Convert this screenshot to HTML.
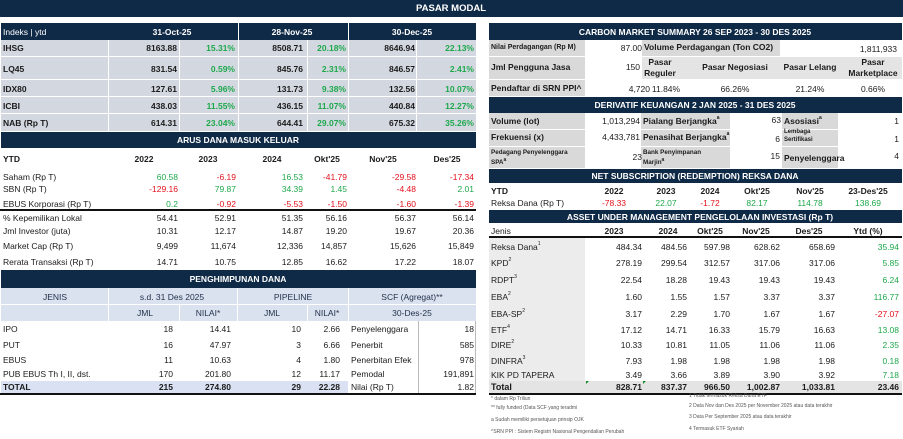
<!DOCTYPE html>
<html><head><meta charset="utf-8">
<style>
*{margin:0;padding:0;box-sizing:border-box}
body{width:903px;height:439px;background:#fff;position:relative;overflow:hidden;font-family:"Liberation Sans",Arial,sans-serif;color:#1b1b1b}
.a{position:absolute;white-space:nowrap;line-height:10px;font-size:8.5px}
.c{width:120px;text-align:center}
.b{font-weight:bold}
.g{color:#1ea84c}
.rd{color:#e3101c}
.w{color:#fff}
.bx{position:absolute}
.nv{background:#0f2a47}
.s{font-size:7px}
.f{font-size:5px;color:#555;line-height:6px}
sup{font-size:5px;vertical-align:top;position:relative;top:-3px}
</style></head><body>

<!-- Top header -->
<div class="bx nv" style="left:0;top:0;width:903px;height:17px"></div>
<div class="a b w" style="left:391px;top:4px;width:120px;text-align:center;font-size:9.5px">PASAR MODAL</div>

<!-- ============ LEFT: Indices ============ -->
<div class="bx nv" style="left:1px;top:23px;width:475px;height:17px"></div>
<div class="bx" style="left:238px;top:23px;width:1px;height:17px;background:#fff"></div>
<div class="bx" style="left:348px;top:23px;width:1px;height:17px;background:#fff"></div>
<div class="a w" style="left:3px;top:27px">Indeks | ytd</div>
<div class="a b w c" style="left:112px;top:27px">31-Oct-25</div>
<div class="a b w c" style="left:232px;top:27px">28-Nov-25</div>
<div class="a b w c" style="left:352px;top:27px">30-Dec-25</div>

<div class="bx" style="left:1px;top:40px;width:475px;height:91px;background:#d3d8e0"></div>
<div class="bx" style="left:1px;top:56px;width:475px;height:1px;background:#fff"></div>
<div class="bx" style="left:1px;top:79px;width:475px;height:1px;background:#fff"></div>
<div class="bx" style="left:1px;top:96px;width:475px;height:1px;background:#fff"></div>
<div class="bx" style="left:1px;top:113px;width:475px;height:1px;background:#fff"></div>
<div class="bx" style="left:108px;top:40px;width:1px;height:91px;background:#fff"></div>
<div class="bx" style="left:179px;top:40px;width:1px;height:91px;background:#fff"></div>
<div class="bx" style="left:238px;top:40px;width:1px;height:91px;background:#fff"></div>
<div class="bx" style="left:307px;top:40px;width:1px;height:91px;background:#fff"></div>
<div class="bx" style="left:348px;top:40px;width:1px;height:91px;background:#fff"></div>
<div class="bx" style="left:416px;top:40px;width:1px;height:91px;background:#fff"></div>

<div class="a b" style="left:3px;top:43px">IHSG</div>
<div class="a b" style="right:726px;top:43px">8163.88</div>
<div class="a b g" style="right:668px;top:43px">15.31%</div>
<div class="a b" style="right:600px;top:43px">8508.71</div>
<div class="a b g" style="right:557px;top:43px">20.18%</div>
<div class="a b" style="right:488px;top:43px">8646.94</div>
<div class="a b g" style="right:429px;top:43px">22.13%</div>

<div class="a b" style="left:3px;top:64px">LQ45</div>
<div class="a b" style="right:726px;top:64px">831.54</div>
<div class="a b g" style="right:668px;top:64px">0.59%</div>
<div class="a b" style="right:600px;top:64px">845.76</div>
<div class="a b g" style="right:557px;top:64px">2.31%</div>
<div class="a b" style="right:488px;top:64px">846.57</div>
<div class="a b g" style="right:429px;top:64px">2.41%</div>

<div class="a b" style="left:3px;top:84px">IDX80</div>
<div class="a b" style="right:726px;top:84px">127.61</div>
<div class="a b g" style="right:668px;top:84px">5.96%</div>
<div class="a b" style="right:600px;top:84px">131.73</div>
<div class="a b g" style="right:557px;top:84px">9.38%</div>
<div class="a b" style="right:488px;top:84px">132.56</div>
<div class="a b g" style="right:429px;top:84px">10.07%</div>

<div class="a b" style="left:3px;top:101px">ICBI</div>
<div class="a b" style="right:726px;top:101px">438.03</div>
<div class="a b g" style="right:668px;top:101px">11.55%</div>
<div class="a b" style="right:600px;top:101px">436.15</div>
<div class="a b g" style="right:557px;top:101px">11.07%</div>
<div class="a b" style="right:488px;top:101px">440.84</div>
<div class="a b g" style="right:429px;top:101px">12.27%</div>

<div class="a b" style="left:3px;top:118px">NAB (Rp T)</div>
<div class="a b" style="right:726px;top:118px">614.31</div>
<div class="a b g" style="right:668px;top:118px">23.04%</div>
<div class="a b" style="right:600px;top:118px">644.41</div>
<div class="a b g" style="right:557px;top:118px">29.07%</div>
<div class="a b" style="right:488px;top:118px">675.32</div>
<div class="a b g" style="right:429px;top:118px">35.26%</div>

<!-- ARUS DANA -->
<div class="bx nv" style="left:1px;top:132px;width:475px;height:16px"></div>
<div class="a b w" style="left:138px;top:135px;width:200px;text-align:center">ARUS DANA MASUK KELUAR</div>

<div class="a b" style="left:3px;top:154px">YTD</div>
<div class="a b c" style="left:84px;top:154px">2022</div>
<div class="a b c" style="left:148px;top:154px">2023</div>
<div class="a b c" style="left:212px;top:154px">2024</div>
<div class="a b c" style="left:267px;top:154px">Okt'25</div>
<div class="a b c" style="left:323px;top:154px">Nov'25</div>
<div class="a b c" style="left:387px;top:154px">Des'25</div>

<div class="a" style="left:3px;top:172px">Saham (Rp T)</div>
<div class="a g" style="right:725px;top:172px">60.58</div>
<div class="a rd" style="right:667px;top:172px">-6.19</div>
<div class="a g" style="right:600px;top:172px">16.53</div>
<div class="a rd" style="right:556px;top:172px">-41.79</div>
<div class="a rd" style="right:487px;top:172px">-29.58</div>
<div class="a rd" style="right:429px;top:172px">-17.34</div>

<div class="a" style="left:3px;top:184px">SBN (Rp T)</div>
<div class="a rd" style="right:725px;top:184px">-129.16</div>
<div class="a g" style="right:667px;top:184px">79.87</div>
<div class="a g" style="right:600px;top:184px">34.39</div>
<div class="a g" style="right:556px;top:184px">1.45</div>
<div class="a rd" style="right:487px;top:184px">-4.48</div>
<div class="a g" style="right:429px;top:184px">2.01</div>

<div class="a" style="left:3px;top:199px">EBUS Korporasi (Rp T)</div>
<div class="a g" style="right:725px;top:199px">0.2</div>
<div class="a rd" style="right:667px;top:199px">-0.92</div>
<div class="a rd" style="right:600px;top:199px">-5.53</div>
<div class="a rd" style="right:556px;top:199px">-1.50</div>
<div class="a rd" style="right:487px;top:199px">-1.60</div>
<div class="a rd" style="right:429px;top:199px">-1.39</div>

<div class="bx" style="left:0;top:209px;width:476px;height:1.5px;background:#111"></div>

<div class="a" style="left:3px;top:213px">% Kepemilikan Lokal</div>
<div class="a" style="right:725px;top:213px">54.41</div>
<div class="a" style="right:667px;top:213px">52.91</div>
<div class="a" style="right:600px;top:213px">51.35</div>
<div class="a" style="right:556px;top:213px">56.16</div>
<div class="a" style="right:487px;top:213px">56.37</div>
<div class="a" style="right:429px;top:213px">56.14</div>

<div class="a" style="left:3px;top:226px">Jml Investor (juta)</div>
<div class="a" style="right:725px;top:226px">10.31</div>
<div class="a" style="right:667px;top:226px">12.17</div>
<div class="a" style="right:600px;top:226px">14.87</div>
<div class="a" style="right:556px;top:226px">19.20</div>
<div class="a" style="right:487px;top:226px">19.67</div>
<div class="a" style="right:429px;top:226px">20.36</div>

<div class="a" style="left:3px;top:241px">Market Cap (Rp T)</div>
<div class="a" style="right:725px;top:241px">9,499</div>
<div class="a" style="right:667px;top:241px">11,674</div>
<div class="a" style="right:600px;top:241px">12,336</div>
<div class="a" style="right:556px;top:241px">14,857</div>
<div class="a" style="right:487px;top:241px">15,626</div>
<div class="a" style="right:429px;top:241px">15,849</div>

<div class="a" style="left:3px;top:257px">Rerata Transaksi (Rp T)</div>
<div class="a" style="right:725px;top:257px">14.71</div>
<div class="a" style="right:667px;top:257px">10.75</div>
<div class="a" style="right:600px;top:257px">12.85</div>
<div class="a" style="right:556px;top:257px">16.62</div>
<div class="a" style="right:487px;top:257px">17.22</div>
<div class="a" style="right:429px;top:257px">18.07</div>

<!-- PENGHIMPUNAN -->
<div class="bx nv" style="left:1px;top:270px;width:475px;height:18px"></div>
<div class="a b w" style="left:138px;top:274px;width:200px;text-align:center">PENGHIMPUNAN DANA</div>

<div class="bx" style="left:1px;top:288px;width:475px;height:33px;background:#dbe2ef"></div>
<div class="bx" style="left:1px;top:304px;width:475px;height:1px;background:#fff"></div>
<div class="bx" style="left:108px;top:288px;width:1px;height:33px;background:#fff"></div>
<div class="bx" style="left:237px;top:288px;width:1px;height:33px;background:#fff"></div>
<div class="bx" style="left:348px;top:288px;width:1px;height:33px;background:#fff"></div>
<div class="bx" style="left:179px;top:305px;width:1px;height:16px;background:#fff"></div>
<div class="bx" style="left:307px;top:305px;width:1px;height:16px;background:#fff"></div>

<div class="a c" style="left:-5px;top:292px;color:#1f2f4a">JENIS</div>
<div class="a c" style="left:112px;top:292px;color:#1f2f4a">s.d. 31 Des 2025</div>
<div class="a c" style="left:233px;top:292px;color:#1f2f4a">PIPELINE</div>
<div class="a c" style="left:352px;top:292px;color:#1f2f4a">SCF (Agregat)**</div>
<div class="a c" style="left:85px;top:308px;color:#1f2f4a">JML</div>
<div class="a c" style="left:148px;top:308px;color:#1f2f4a">NILAI*</div>
<div class="a c" style="left:212px;top:308px;color:#1f2f4a">JML</div>
<div class="a c" style="left:267px;top:308px;color:#1f2f4a">NILAI*</div>
<div class="a c" style="left:352px;top:308px;color:#1f2f4a">30-Des-25</div>

<div class="bx" style="left:418px;top:321px;width:1px;height:72px;background:#bbb"></div>
<div class="bx" style="left:475px;top:321px;width:1px;height:72px;background:#bbb"></div>

<div class="bx" style="left:1px;top:381px;width:347px;height:12px;background:#d9e1f2"></div>
<div class="bx" style="left:0;top:393px;width:476px;height:1.5px;background:#111"></div>

<div class="a" style="left:3px;top:324px">IPO</div>
<div class="a" style="right:730px;top:324px">18</div>
<div class="a" style="right:672px;top:324px">14.41</div>
<div class="a" style="right:602px;top:324px">10</div>
<div class="a" style="right:563px;top:324px">2.66</div>
<div class="a" style="left:351px;top:324px">Penyelenggara</div>
<div class="a" style="right:429px;top:324px">18</div>

<div class="a" style="left:3px;top:340px">PUT</div>
<div class="a" style="right:730px;top:340px">16</div>
<div class="a" style="right:672px;top:340px">47.97</div>
<div class="a" style="right:602px;top:340px">3</div>
<div class="a" style="right:563px;top:340px">6.66</div>
<div class="a" style="left:351px;top:340px">Penerbit</div>
<div class="a" style="right:429px;top:340px">585</div>

<div class="a" style="left:3px;top:355px">EBUS</div>
<div class="a" style="right:730px;top:355px">11</div>
<div class="a" style="right:672px;top:355px">10.63</div>
<div class="a" style="right:602px;top:355px">4</div>
<div class="a" style="right:563px;top:355px">1.80</div>
<div class="a" style="left:351px;top:355px">Penerbitan Efek</div>
<div class="a" style="right:429px;top:355px">978</div>

<div class="a" style="left:3px;top:369px">PUB EBUS Th I, II, dst.</div>
<div class="a" style="right:730px;top:369px">170</div>
<div class="a" style="right:672px;top:369px">201.80</div>
<div class="a" style="right:602px;top:369px">12</div>
<div class="a" style="right:563px;top:369px">11.17</div>
<div class="a" style="left:351px;top:369px">Pemodal</div>
<div class="a" style="right:429px;top:369px">191,891</div>

<div class="a b" style="left:3px;top:382px">TOTAL</div>
<div class="a b" style="right:730px;top:382px">215</div>
<div class="a b" style="right:672px;top:382px">274.80</div>
<div class="a b" style="right:602px;top:382px">29</div>
<div class="a b" style="right:563px;top:382px">22.28</div>
<div class="a" style="left:351px;top:382px">Nilai (Rp T)</div>
<div class="a" style="right:429px;top:382px">1.82</div>

<!-- ============ RIGHT ============ -->
<!-- CARBON -->
<div class="bx nv" style="left:489px;top:23px;width:413px;height:17px"></div>
<div class="a b w" style="left:545px;top:27px;width:300px;text-align:center">CARBON MARKET SUMMARY 26 SEP 2023 - 30 DES 2025</div>

<div class="bx" style="left:489px;top:40px;width:96px;height:56px;background:#d9d9d9"></div>
<div class="bx" style="left:489px;top:56px;width:96px;height:1px;background:#fff"></div>
<div class="bx" style="left:489px;top:79px;width:96px;height:1px;background:#fff"></div>
<div class="bx" style="left:642px;top:40px;width:138px;height:16px;background:#d9d9d9"></div>
<div class="bx" style="left:642px;top:57px;width:260px;height:22px;background:#e4e4e4"></div>
<div class="bx" style="left:489px;top:96px;width:413px;height:1px;background:#fff"></div>

<div class="a b s" style="left:491px;top:43px">Nilai Perdagangan (Rp M)</div>
<div class="a" style="right:261px;top:43px">87.00</div>
<div class="a b" style="left:644px;top:42px">Volume Perdagangan (Ton CO2)</div>
<div class="a" style="right:6px;top:44px">1,811,933</div>

<div class="a b" style="left:491px;top:62px">Jml Pengguna Jasa</div>
<div class="a" style="right:263px;top:62px">150</div>
<div class="a b c" style="left:600px;top:57px">Pasar</div>
<div class="a b c" style="left:600px;top:68px">Reguler</div>
<div class="a b c" style="left:675px;top:62px">Pasar Negosiasi</div>
<div class="a b c" style="left:750px;top:62px">Pasar Lelang</div>
<div class="a b c" style="left:813px;top:57px">Pasar</div>
<div class="a b c" style="left:813px;top:68px">Marketplace</div>

<div class="a b" style="left:491px;top:83px">Pendaftar di SRN PPI^</div>
<div class="a" style="right:253px;top:84px">4,720</div>
<div class="a c" style="left:606px;top:84px">11.84%</div>
<div class="a c" style="left:675px;top:84px">66.26%</div>
<div class="a c" style="left:750px;top:84px">21.24%</div>
<div class="a c" style="left:813px;top:84px">0.66%</div>

<!-- DERIVATIF -->
<div class="bx nv" style="left:489px;top:97px;width:413px;height:16px"></div>
<div class="a b w" style="left:545px;top:100px;width:300px;text-align:center">DERIVATIF KEUANGAN 2 JAN 2025 - 31 DES 2025</div>

<div class="bx" style="left:489px;top:113px;width:96px;height:55px;background:#d9d9d9"></div>
<div class="bx" style="left:641px;top:113px;width:89px;height:55px;background:#d9d9d9"></div>
<div class="bx" style="left:782px;top:113px;width:56px;height:55px;background:#d9d9d9"></div>
<div class="bx" style="left:489px;top:129px;width:413px;height:1px;background:#fff"></div>
<div class="bx" style="left:489px;top:146px;width:413px;height:1px;background:#fff"></div>

<div class="a b" style="left:491px;top:116px">Volume (lot)</div>
<div class="a" style="right:263px;top:116px">1,013,294</div>
<div class="a b" style="left:643px;top:116px">Pialang Berjangka<sup>a</sup></div>
<div class="a" style="right:122px;top:115px">63</div>
<div class="a b" style="left:784px;top:116px">Asosiasi<sup>a</sup></div>
<div class="a" style="right:4px;top:116px">1</div>

<div class="a b" style="left:491px;top:132px">Frekuensi (x)</div>
<div class="a" style="right:263px;top:132px">4,433,781</div>
<div class="a b" style="left:643px;top:132px">Penasihat Berjangka<sup>a</sup></div>
<div class="a" style="right:123px;top:134px">6</div>
<div class="a b" style="left:784px;top:128px;font-size:6px;line-height:8px">Lembaga<br>Sertifikasi</div>
<div class="a" style="right:4px;top:134px">1</div>

<div class="a b" style="left:491px;top:148px;font-size:6.3px;line-height:10px">Pedagang Penyelenggara<br>SPA<sup>a</sup></div>
<div class="a" style="right:261px;top:152px">23</div>
<div class="a b" style="left:643px;top:148px;font-size:6.3px;line-height:10px">Bank Penyimpanan<br>Marjin<sup>a</sup></div>
<div class="a" style="right:123px;top:151px">15</div>
<div class="a b" style="left:784px;top:153px">Penyelenggara</div>
<div class="a" style="right:4px;top:151px">4</div>

<!-- NET SUBSCRIPTION -->
<div class="bx nv" style="left:489px;top:169px;width:413px;height:14px"></div>
<div class="a b w" style="left:545px;top:171px;width:300px;text-align:center">NET SUBSCRIPTION (REDEMPTION) REKSA DANA</div>

<div class="a b" style="left:491px;top:186px">YTD</div>
<div class="a b c" style="left:554px;top:186px">2022</div>
<div class="a b c" style="left:606px;top:186px">2023</div>
<div class="a b c" style="left:650px;top:186px">2024</div>
<div class="a b c" style="left:697px;top:186px">Okt'25</div>
<div class="a b c" style="left:750px;top:186px">Nov'25</div>
<div class="a b c" style="left:808px;top:186px">23-Des'25</div>

<div class="a" style="left:491px;top:198px">Reksa Dana (Rp T)</div>
<div class="a rd c" style="left:554px;top:198px">-78.33</div>
<div class="a g c" style="left:606px;top:198px">22.07</div>
<div class="a rd c" style="left:650px;top:198px">-1.72</div>
<div class="a g c" style="left:697px;top:198px">82.17</div>
<div class="a g c" style="left:750px;top:198px">114.78</div>
<div class="a g c" style="left:808px;top:198px">138.69</div>

<!-- AUM -->
<div class="bx nv" style="left:489px;top:210px;width:413px;height:13px"></div>
<div class="a b w" style="left:550px;top:212px;width:300px;text-align:center">ASSET UNDER MANAGEMENT PENGELOLAAN INVESTASI (Rp T)</div>

<div class="a" style="left:491px;top:226px">Jenis</div>
<div class="a b c" style="left:554px;top:226px">2023</div>
<div class="a b c" style="left:608px;top:226px">2024</div>
<div class="a b c" style="left:650px;top:226px">Okt'25</div>
<div class="a b c" style="left:696px;top:226px">Nov'25</div>
<div class="a b c" style="left:749px;top:226px">Des'25</div>
<div class="a b c" style="left:808px;top:226px">Ytd (%)</div>
<div class="bx" style="left:489px;top:236px;width:413px;height:1.5px;background:#111"></div>
<div class="bx" style="left:489px;top:238px;width:96px;height:143px;background:#ececec"></div>

<div class="a" style="left:491px;top:242px">Reksa Dana<sup>1</sup></div>
<div class="a" style="right:261px;top:242px">484.34</div>
<div class="a" style="right:216px;top:242px">484.56</div>
<div class="a" style="right:173px;top:242px">597.98</div>
<div class="a" style="right:123px;top:242px">628.62</div>
<div class="a" style="right:68px;top:242px">658.69</div>
<div class="a g" style="right:4px;top:242px">35.94</div>

<div class="a" style="left:491px;top:258px">KPD<sup>2</sup></div>
<div class="a" style="right:261px;top:258px">278.19</div>
<div class="a" style="right:216px;top:258px">299.54</div>
<div class="a" style="right:173px;top:258px">312.57</div>
<div class="a" style="right:123px;top:258px">317.06</div>
<div class="a" style="right:68px;top:258px">317.06</div>
<div class="a g" style="right:4px;top:258px">5.85</div>

<div class="a" style="left:491px;top:275px">RDPT<sup>3</sup></div>
<div class="a" style="right:261px;top:275px">22.54</div>
<div class="a" style="right:216px;top:275px">18.28</div>
<div class="a" style="right:173px;top:275px">19.43</div>
<div class="a" style="right:123px;top:275px">19.43</div>
<div class="a" style="right:68px;top:275px">19.43</div>
<div class="a g" style="right:4px;top:275px">6.24</div>

<div class="a" style="left:491px;top:292px">EBA<sup>2</sup></div>
<div class="a" style="right:261px;top:292px">1.60</div>
<div class="a" style="right:216px;top:292px">1.55</div>
<div class="a" style="right:173px;top:292px">1.57</div>
<div class="a" style="right:123px;top:292px">3.37</div>
<div class="a" style="right:68px;top:292px">3.37</div>
<div class="a g" style="right:4px;top:292px">116.77</div>

<div class="a" style="left:491px;top:309px">EBA-SP<sup>2</sup></div>
<div class="a" style="right:261px;top:309px">3.17</div>
<div class="a" style="right:216px;top:309px">2.29</div>
<div class="a" style="right:173px;top:309px">1.70</div>
<div class="a" style="right:123px;top:309px">1.67</div>
<div class="a" style="right:68px;top:309px">1.67</div>
<div class="a rd" style="right:4px;top:309px">-27.07</div>

<div class="a" style="left:491px;top:325px">ETF<sup>4</sup></div>
<div class="a" style="right:261px;top:325px">17.12</div>
<div class="a" style="right:216px;top:325px">14.71</div>
<div class="a" style="right:173px;top:325px">16.33</div>
<div class="a" style="right:123px;top:325px">15.79</div>
<div class="a" style="right:68px;top:325px">16.63</div>
<div class="a g" style="right:4px;top:325px">13.08</div>

<div class="a" style="left:491px;top:340px">DIRE<sup>2</sup></div>
<div class="a" style="right:261px;top:340px">10.33</div>
<div class="a" style="right:216px;top:340px">10.81</div>
<div class="a" style="right:173px;top:340px">11.05</div>
<div class="a" style="right:123px;top:340px">11.06</div>
<div class="a" style="right:68px;top:340px">11.06</div>
<div class="a g" style="right:4px;top:340px">2.35</div>

<div class="a" style="left:491px;top:356px">DINFRA<sup>3</sup></div>
<div class="a" style="right:261px;top:356px">7.93</div>
<div class="a" style="right:216px;top:356px">1.98</div>
<div class="a" style="right:173px;top:356px">1.98</div>
<div class="a" style="right:123px;top:356px">1.98</div>
<div class="a" style="right:68px;top:356px">1.98</div>
<div class="a g" style="right:4px;top:356px">0.18</div>

<div class="a" style="left:491px;top:370px">KIK PD TAPERA</div>
<div class="a" style="right:261px;top:370px">3.49</div>
<div class="a" style="right:216px;top:370px">3.66</div>
<div class="a" style="right:173px;top:370px">3.89</div>
<div class="a" style="right:123px;top:370px">3.90</div>
<div class="a" style="right:68px;top:370px">3.92</div>
<div class="a g" style="right:4px;top:370px">7.18</div>

<div class="bx" style="left:489px;top:381px;width:413px;height:12px;background:#e4e4e4"></div>
<div class="bx" style="left:489px;top:393px;width:413px;height:1.5px;background:#111"></div>
<div class="bx" style="left:586px;top:381px;width:0;height:0;border-top:3px solid #1a8a2e;border-right:3px solid transparent"></div>
<div class="bx" style="left:643px;top:381px;width:0;height:0;border-top:3px solid #1a8a2e;border-right:3px solid transparent"></div>
<div class="a b" style="left:491px;top:382px;font-size:9px">Total</div>
<div class="a b" style="right:261px;top:382px">828.71</div>
<div class="a b" style="right:216px;top:382px">837.37</div>
<div class="a b" style="right:173px;top:382px">966.50</div>
<div class="a b" style="right:123px;top:382px">1,002.87</div>
<div class="a b" style="right:68px;top:382px">1,033.81</div>
<div class="a b" style="right:4px;top:382px">23.46</div>

<!-- Footnotes -->
<div class="a f" style="left:491px;top:396px">* dalam Rp Triliun</div>
<div class="a f" style="left:491px;top:405px">** fully funded (Data SCF yang teradmi</div>
<div class="a f" style="left:491px;top:417px">a Sudah memiliki persetujuan prinsip OJK</div>
<div class="a f" style="left:491px;top:429px">^SRN PPI : Sistem Registri Nasional Pengendalian Perubah</div>

<div class="a f" style="left:689px;top:393px">1 Tidak termasuk Reksa Dana ETF</div>
<div class="a f" style="left:689px;top:403px">2 Data Nov dan Des 2025 per November 2025 atau data terakhir</div>
<div class="a f" style="left:689px;top:414px">3 Data Per September 2025 atau data terakhir</div>
<div class="a f" style="left:689px;top:426px">4 Termasuk ETF Syariah</div>

</body></html>
